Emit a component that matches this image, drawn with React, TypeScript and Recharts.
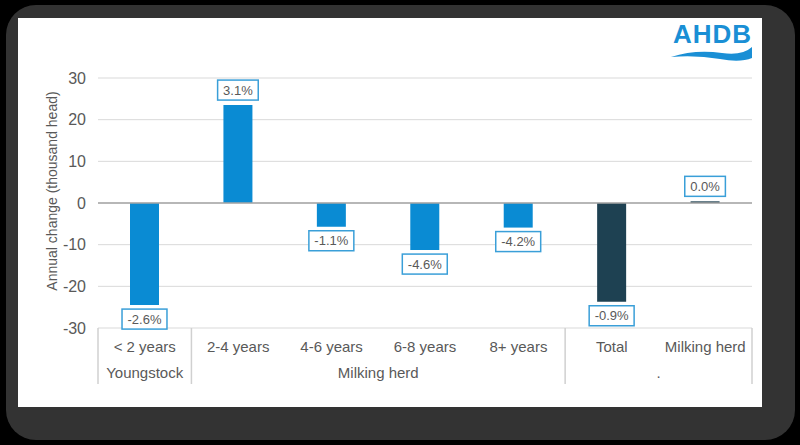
import { Bar, BarChart, CartesianGrid, Cell, Label, LabelList, ReferenceLine, XAxis, YAxis } from 'recharts'

// categories along the bottom, grouped into the second-level labels
const categories = ['< 2 years', '2-4 years', '4-6 years', '6-8 years', '8+ years', 'Total', 'Milking herd']
// annual change, thousand head
const changes = [-24.5, 23.5, -5.7, -11.3, -5.9, -23.7, 0.4]
// percentage change shown in the boxes
const pctLabels = ['-2.6%', '3.1%', '-1.1%', '-4.6%', '-4.2%', '-0.9%', '0.0%']
const groupNames = ['Youngstock', 'Milking herd', '.']
const groupSizes = [1, 4, 2]
const yTicks = [-30, -20, -10, 0, 10, 20, 30]

const BLUE = '#0a8bd3'
const DARK = '#1e4152'
const TEXT = '#595959'
const FONT = '"Liberation Sans", Arial, sans-serif'

const data = categories.map((name, i) => ({ name, change: changes[i], pct: pctLabels[i] }))

// index -> group index
const groupOf: number[] = []
const groupStart: number[] = []
groupSizes.forEach((n, g) => {
  groupStart.push(groupOf.length)
  for (let k = 0; k < n; k++) groupOf.push(g)
})

function CategoryTick(props: any) {
  const { x, y, payload } = props
  const i: number = payload?.index ?? props.index
  const half: number = payload?.offset || 654 / categories.length / 2
  const g = groupOf[i]
  const first = groupStart[g] === i
  return (
    <g>
      <text x={x} y={y + 24} textAnchor="middle" fill={TEXT} fontSize={15} fontFamily={FONT}>
        {payload.value}
      </text>
      {first && <line x1={x - half} x2={x - half} y1={y} y2={y + 56} stroke="#d0d0d0" strokeWidth={1.5} />}
      {first && (
        <text x={x + (groupSizes[g] - 1) * half} y={y + 50} textAnchor="middle" fill={TEXT} fontSize={15} fontFamily={FONT}>
          {groupNames[g]}
        </text>
      )}
      {i === categories.length - 1 && (
        <line x1={x + half} x2={x + half} y1={y} y2={y + 56} stroke="#d0d0d0" strokeWidth={1.5} />
      )}
    </g>
  )
}

const charW: Record<string, number> = { '-': 0.333, '.': 0.278, '%': 0.889 }

function PctBox(props: any) {
  const vb = props.viewBox ?? props
  const { x, y, width, height } = vb
  const value = String(props.value)
  const idx = props.index ?? pctLabels.indexOf(value)
  const top = Math.min(y, y + height)
  const bottom = Math.max(y, y + height)
  const fs = 13
  const w = value.split('').reduce((s, c) => s + (charW[c] ?? 0.556), 0) * fs + 11
  const h = 20
  const bx = x + width / 2 - w / 2
  const by = changes[idx] >= 0 ? top - 5 - h : bottom + 4
  return (
    <g>
      <rect x={bx} y={by} width={w} height={h} fill="#fff" stroke="#3a9fd8" strokeWidth={1.5} />
      <text x={x + width / 2} y={by + h / 2} dominantBaseline="central" textAnchor="middle" fill={TEXT} fontSize={fs} fontFamily={FONT}>
        {value}
      </text>
    </g>
  )
}

function YTitle(props: any) {
  const vb = props.viewBox
  const cx = vb.x + 14
  const cy = 191
  return (
    <text x={cx} y={cy} transform={`rotate(-90 ${cx} ${cy})`} textAnchor="middle" dominantBaseline="central" fill={TEXT} fontSize={14} fontFamily={FONT}>
      Annual change (thousand head)
    </text>
  )
}

export default function App() {
  return (
    <div style={{ position: 'fixed', left: 0, top: 0, width: 800, height: 445, background: '#000', overflow: 'hidden' }}>
      <div style={{ position: 'absolute', left: 6, top: 5, width: 789, height: 435, borderRadius: 30, background: '#333' }} />
      <div style={{ position: 'absolute', left: 18, top: 18, width: 744, height: 389, background: '#fff' }} />
      <svg style={{ position: 'absolute', left: 0, top: 0 }} width={800} height={445}>
        <text x={673} y={43} fill="#1a8fd5" fontSize={26} fontWeight="bold" fontFamily={FONT} textLength={78}>
          AHDB
        </text>
        <path d="M671,57 Q695,49 722,53 Q742,56 752,47 L752,58 Q740,63 720,59 Q696,55 671,57 Z" fill="#1a8fd5" />
      </svg>
      <div style={{ position: 'absolute', left: 0, top: 0 }}>
        <BarChart width={800} height={445} data={data} margin={{ top: 78, right: 48, bottom: 57, left: 38 }}>
          <CartesianGrid vertical={false} stroke="#d9d9d9" />
          <YAxis
            type="number"
            domain={[-30, 30]}
            ticks={yTicks}
            width={60}
            axisLine={false}
            tickLine={false}
            tickSize={6}
            tickMargin={6}
            tick={{ fill: TEXT, fontSize: 16, fontFamily: FONT }}
            label={<Label content={YTitle} />}
          />
          <XAxis
            dataKey="name"
            height={60}
            axisLine={false}
            tickLine={false}
            tickSize={0}
            tickMargin={0}
            interval={0}
            tick={<CategoryTick />}
          />
          <ReferenceLine y={0} stroke="#a6a6a6" strokeWidth={1.5} />
          <Bar dataKey="change" barSize={29} isAnimationActive={false}>
            {data.map((d, i) => (
              <Cell key={d.name} fill={groupOf[i] === 2 ? DARK : BLUE} />
            ))}
            <LabelList dataKey="pct" content={PctBox} />
          </Bar>
        </BarChart>
      </div>
    </div>
  )
}
